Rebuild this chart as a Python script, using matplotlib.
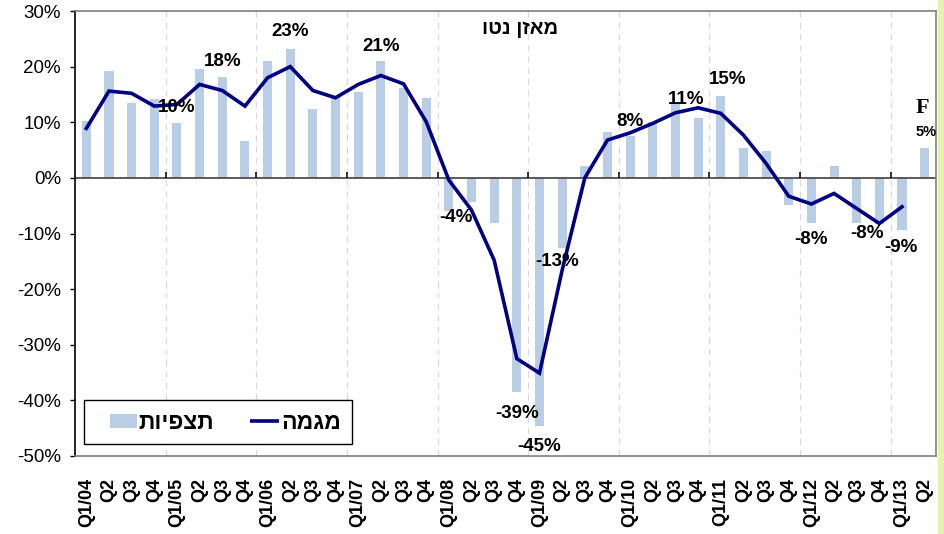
import matplotlib
matplotlib.use('Agg')
import matplotlib.pyplot as plt
import numpy as np
from matplotlib.patches import Rectangle, Patch
from matplotlib.lines import Line2D
from matplotlib.legend_handler import HandlerBase
from matplotlib.transforms import blended_transform_factory

plt.rcParams['font.family'] = ['Liberation Sans', 'DejaVu Sans']

# ---------------- data ----------------
quarters = ['Q1/04', 'Q2', 'Q3', 'Q4', 'Q1/05', 'Q2', 'Q3', 'Q4',
            'Q1/06', 'Q2', 'Q3', 'Q4', 'Q1/07', 'Q2', 'Q3', 'Q4',
            'Q1/08', 'Q2', 'Q3', 'Q4', 'Q1/09', 'Q2', 'Q3', 'Q4',
            'Q1/10', 'Q2', 'Q3', 'Q4', 'Q1/11', 'Q2', 'Q3', 'Q4',
            'Q1/12', 'Q2', 'Q3', 'Q4', 'Q1/13', 'Q2']

observations = [10.3, 19.2, 13.5, 14.2, 9.8, 19.5, 18.1, 6.6,
                21.0, 23.2, 12.3, 14.4, 15.4, 21.0, 16.2, 14.3,
                -5.9, -4.3, -8.2, -38.5, -44.6, -12.6, 2.2, 8.2,
                7.5, 10.1, 13.2, 10.8, 14.7, 5.3, 4.8, -4.9,
                -8.2, 2.2, -8.2, -8.3, -9.4, 5.3]

trend = [8.9, 15.6, 15.2, 12.9, 13.2, 16.8, 15.7, 12.9,
         18.0, 20.0, 15.7, 14.4, 16.8, 18.4, 16.9, 10.1,
         -0.4, -5.8, -14.8, -32.5, -35.1, -16.6, 0.0, 6.8,
         8.1, 9.8, 11.7, 12.6, 11.6, 7.7, 2.6, -3.3,
         -4.7, -2.8, -5.5, -8.2, -5.2, np.nan]

label_idx = [4, 6, 9, 13, 17, 19, 20, 21, 24, 27, 28, 32, 35, 36, 37]
label_text = ['10%', '18%', '23%', '21%', '-4%', '-39%', '-45%', '-13%',
              '8%', '11%', '15%', '-8%', '-8%', '-9%', '5%']

title = 'מאזן נטו'
series_bar = 'תצפיות'
series_line = 'מגמה'
forecast_mark = 'F'

# ---------------- layout / style ----------------
label_offsets = [(0, 16), (0, 16), (0, 17), (0, 15), (-16, -16), (0, -21),
                 (0, -21), (-5, -14), (0, 15), (-12, 18), (7, 17), (0, -16),
                 (-12, -9), (-1, -17), (1, 16)]


def rtl(s):
    return s[::-1]


class RightPatchHandler(HandlerBase):
    def __init__(self, w_pt, h_pt):
        super().__init__()
        self.w_pt, self.h_pt = w_pt, h_pt

    def create_artists(self, legend, orig_handle, xdescent, ydescent, width, height, fontsize, trans):
        r = Rectangle((-xdescent + width - self.w_pt, -ydescent + (height - self.h_pt) / 2),
                      self.w_pt, self.h_pt, facecolor=orig_handle.get_facecolor(),
                      edgecolor='none', transform=trans)
        return [r]


class RightLineHandler(HandlerBase):
    def __init__(self, w_pt):
        super().__init__()
        self.w_pt = w_pt

    def create_artists(self, legend, orig_handle, xdescent, ydescent, width, height, fontsize, trans):
        y = -ydescent + height / 2
        ln = Line2D([-xdescent + width - self.w_pt, -xdescent + width], [y, y],
                    color=orig_handle.get_color(), lw=orig_handle.get_linewidth(),
                    solid_capstyle='butt', transform=trans)
        return [ln]


W, H = 944, 534
fig = plt.figure(figsize=(W / 100, H / 100), dpi=100)
fig.patches.append(Rectangle((938 / W, 0), 1 - 938 / W, 1, transform=fig.transFigure,
                             color='#e4f1b0', zorder=-1))
ax = fig.add_axes([75 / W, 1 - 456 / H, (936 - 75) / W, (456 - 11) / H])

x = np.arange(len(quarters))
bar_color = '#b9cde5'
line_color = '#000080'

ax.bar(x, observations, width=0.4, color=bar_color, zorder=2)
ax.plot(x, trend, color=line_color, lw=2.6, zorder=3, solid_joinstyle='miter')

ax.set_xlim(-0.5, len(quarters) - 0.5)
ax.set_ylim(-50, 30)

# year boundaries
bounds = np.arange(4, len(quarters), 4) - 0.5
for b in bounds:
    ax.axvline(b, color='#d9d9d9', lw=0.9, ls=(0, (5, 4)), zorder=1)

# zero axis line with small tick marks at year boundaries
ax.axhline(0, color='#404040', lw=1.2, zorder=2.5)
tr = blended_transform_factory(ax.transData, ax.transAxes)
y0 = 50 / 80
ax.vlines(bounds, y0, y0 + 6 / 445, transform=tr, color='black', lw=1.1, zorder=2.5)

# category labels
ax.set_xticks(x)
ax.set_xticklabels(quarters, rotation=90, fontsize=13, fontweight='bold')
ax.tick_params(axis='x', length=0, pad=16)

yt = np.arange(-50, 31, 10)
ax.set_yticks(yt)
ax.set_yticklabels([f'{v}%' for v in yt], fontsize=13.5)
ax.tick_params(axis='y', direction='out', length=3.6, width=1, pad=6.5)

for s in ['top', 'right', 'bottom']:
    ax.spines[s].set_color('#808080')
    ax.spines[s].set_linewidth(1.2)
ax.spines['left'].set_color('black')
ax.spines['left'].set_linewidth(1.2)

# data labels
for i, t, (dx, dy) in zip(label_idx, label_text, label_offsets):
    fs = 10.5 if i == len(quarters) - 1 else 13.5
    ax.annotate(t, (x[i], observations[i]), xytext=(dx, dy), textcoords='offset pixels',
                ha='center', va='center', fontsize=fs, fontweight='bold', zorder=5)

ax.annotate(forecast_mark, (x[-1], observations[-1]), xytext=(-2, 40),
            textcoords='offset pixels', ha='center', va='center', fontsize=16,
            fontweight='bold', family=['Liberation Serif', 'DejaVu Serif'])

ax.text((520 - 75) / 861, (456 - 28) / 445, rtl(title), transform=ax.transAxes,
        ha='center', va='center', fontsize=14.5, fontweight='bold')

h_bar = Patch(facecolor=bar_color, edgecolor='none')
h_line = Line2D([0], [0], color=line_color, lw=2.6)
leg_fs = 16.5
leg = ax.legend([h_bar, h_line], [rtl(series_bar), rtl(series_line)], ncol=2,
                loc='lower left', bbox_to_anchor=((84 - 75) / 861, (456 - 444) / 445),
                borderaxespad=0, fancybox=False, edgecolor='black', framealpha=1,
                prop={'size': leg_fs, 'weight': 'bold'}, handlelength=1.85,
                handletextpad=0.08, columnspacing=1.0, borderpad=0.45,
                handler_map={h_bar: RightPatchHandler(19, 10),
                             h_line: RightLineHandler(21)})
leg.get_frame().set_linewidth(1.0)
leg.set_zorder(6)

fig.savefig('out.png', dpi=100)
